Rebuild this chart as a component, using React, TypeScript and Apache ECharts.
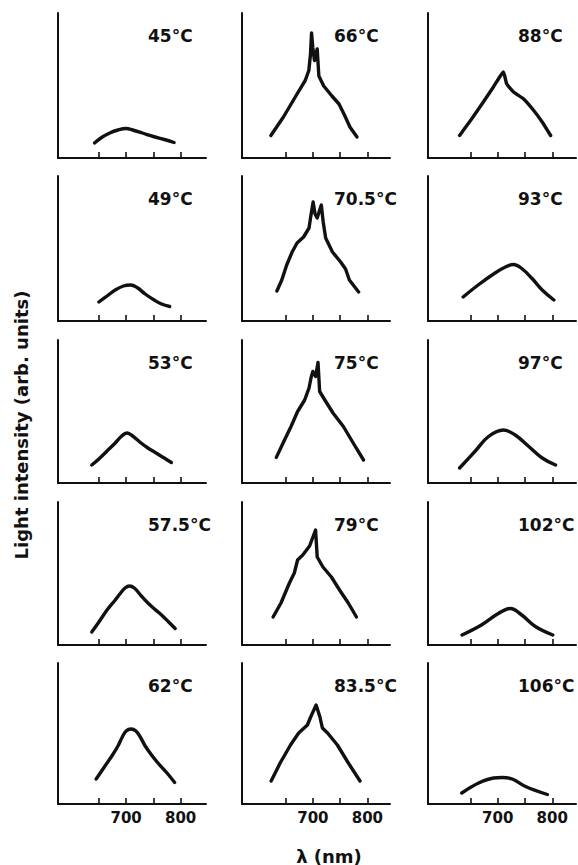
import React, { useEffect, useRef } from "react";
import * as echarts from "echarts";

// Temperature of each panel (column-major: left column top→bottom, then middle, then right)
const temperatureLabels = [
  "45°C", "49°C", "53°C", "57.5°C", "62°C",
  "66°C", "70.5°C", "75°C", "79°C", "83.5°C",
  "88°C", "93°C", "97°C", "102°C", "106°C",
];

// Spectra: [wavelength nm, light intensity (arb. units)]
const s45 = [[642, 15], [655, 20.5], [670, 25], [685, 28], [700, 29.5], [712, 28], [730, 25], [750, 21.5], [770, 18.5], [788, 15.5]];
const s49 = [[650, 19], [665, 25], [680, 31], [695, 35], [708, 36], [720, 33.5], [735, 27], [750, 21.5], [765, 17], [780, 14.5]];
const s53 = [[637, 18], [650, 24], [665, 32], [680, 40], [692, 47], [702, 50], [712, 47], [725, 41], [740, 35], [755, 30], [770, 25], [783, 20.5]];
const s57_5 = [[637, 13], [650, 23], [665, 35], [680, 45], [690, 52], [698, 57], [706, 59], [715, 57], [728, 49], [740, 42], [752, 36], [765, 30], [778, 23], [790, 16.5]];
const s62 = [[645, 25], [660, 37], [675, 49], [685, 58], [693, 67], [700, 73], [709, 75], [718, 73], [726, 67], [735, 58], [748, 48], [760, 40], [775, 31], [789, 21.5]];

const s66 = [[623, 22.5], [646, 41], [671, 64], [686, 77.5], [692.6, 87.5], [695.7, 104], [697.6, 125], [700, 110], [703, 97.5], [708, 109], [711, 82], [720, 72], [735, 62], [748, 54], [758, 43], [768, 31], [781, 21]];
const s70_5 = [[634, 30], [643, 41], [652, 56], [662, 69], [671, 78], [683, 84], [693, 93], [696, 104], [700.5, 119], [704, 107], [708, 103], [712, 110], [715.5, 116], [719, 99], [723.5, 83], [736, 69], [751, 59], [760, 52], [767, 41], [784, 29]];
const s75 = [[633, 25.6], [648, 43], [660, 56.5], [672, 71.5], [685, 83], [693, 95], [697, 106], [700, 111.5], [705, 106.5], [709.5, 120.5], [712.5, 91.5], [722, 83], [737, 70], [756, 56.5], [774, 40], [793, 23]];
const s79 = [[627, 28], [641.5, 42], [657, 62], [666, 72], [672, 85], [681.5, 90], [694, 99], [705, 115], [708, 88], [718.5, 78], [734, 68], [749, 55], [765, 42], [780, 28]];
const s83_5 = [[623.5, 23], [640, 41], [659, 59], [674, 71], [690, 79], [696, 87], [706, 99], [713, 87], [717.5, 76], [727, 71], [745, 59], [764, 42], [786.5, 23]];

const s88 = [[630, 22.5], [652, 39], [673.5, 56], [692, 71], [704, 81.5], [710.5, 86], [716.5, 74], [729, 66], [747.5, 59], [766, 47.5], [781.5, 36], [797, 22.5]];
const s93 = [[636.5, 24], [664, 36], [695, 48], [714, 54], [729, 56.5], [744, 52.5], [763, 42.5], [781.5, 31], [803, 21]];
const s97 = [[630, 15], [658, 31.5], [683, 46.5], [710.5, 53], [732, 48], [757, 36.5], [781.5, 25], [806, 18]];
const s102 = [[634.5, 10], [670, 20], [701, 31.5], [723, 36.5], [744, 30], [769, 18.5], [801, 10]];
const s106 = [[634, 11], [665, 21], [692.5, 26], [708, 26.5], [726.5, 25], [751, 17.5], [791, 9.5]];

const panelSeries = [s45, s49, s53, s57_5, s62, s66, s70_5, s75, s79, s83_5, s88, s93, s97, s102, s106];

const xTickValues = [650, 700, 750, 800];
const xLabelValues = [700, 800];

const yAxisTitle = "Light intensity (arb. units)";
const xAxisTitle = "λ (nm)";

// Layout
const ROW_TOP = [13, 176, 340, 502, 663];
const ROW_BOTTOM = [158, 321, 483, 645, 804];
const COL_LEFT = [58, 242, 428];
const COL_MIN = [575, 570, 572];
const PX_PER_NM = 0.545;
const PLOT_W = 148;
const LABEL_DX = [90, 92, 90];
const SMOOTH = [0.4, 0.4, 0.35, 0.35, 0.35, 0, 0, 0, 0, 0, 0.15, 0.4, 0.4, 0.4, 0.4];
const INK = "#111";
const FONT = "DejaVu Sans";

export default function App() {
  const ref = useRef<HTMLDivElement>(null);
  useEffect(() => {
    document.body.style.margin = "0";
    const chart = echarts.init(ref.current!, null, { renderer: "svg" });
    const grids: any[] = [];
    const xAxes: any[] = [];
    const yAxes: any[] = [];
    const series: any[] = [];
    const graphics: any[] = [];
    for (let c = 0; c < 3; c++) {
      for (let r = 0; r < 5; r++) {
        const i = c * 5 + r;
        const h = ROW_BOTTOM[r] - ROW_TOP[r];
        grids.push({ left: COL_LEFT[c], top: ROW_TOP[r], width: PLOT_W, height: h });
        xAxes.push({
          gridIndex: i,
          type: "value",
          min: COL_MIN[c],
          max: COL_MIN[c] + PLOT_W / PX_PER_NM,
          axisLine: { show: true, onZero: false, lineStyle: { color: INK, width: 2 } },
          axisTick: {
            show: true,
            inside: true,
            length: 6,
            customValues: xTickValues,
            lineStyle: { color: INK, width: 1.6 },
          },
          axisLabel:
            r === 4
              ? {
                  show: true,
                  customValues: xLabelValues,
                  color: INK,
                  fontFamily: FONT,
                  fontWeight: "bold",
                  fontSize: 15,
                  margin: 6,
                }
              : { show: false },
          splitLine: { show: false },
        });
        yAxes.push({
          gridIndex: i,
          type: "value",
          min: 0,
          max: h,
          axisLine: { show: true, onZero: false, lineStyle: { color: INK, width: 2 } },
          axisTick: { show: false },
          axisLabel: { show: false },
          splitLine: { show: false },
        });
        series.push({
          type: "line",
          xAxisIndex: i,
          yAxisIndex: i,
          data: panelSeries[i],
          symbol: "none",
          showSymbol: false,
          smooth: SMOOTH[i],
          silent: true,
          lineStyle: { color: INK, width: 3.4, cap: "round", join: "round" },
        });
        graphics.push({
          type: "text",
          x: COL_LEFT[c] + LABEL_DX[c],
          y: ROW_TOP[r] + 23,
          style: {
            text: temperatureLabels[i],
            fill: INK,
            fontFamily: FONT,
            fontWeight: "bold",
            fontSize: 17,
            align: "left",
            verticalAlign: "middle",
          },
        });
      }
    }
    graphics.push({
      type: "text",
      x: 21,
      y: 425,
      rotation: Math.PI / 2,
      style: {
        text: yAxisTitle,
        fill: INK,
        fontFamily: FONT,
        fontWeight: "bold",
        fontSize: 18,
        align: "center",
        verticalAlign: "middle",
      },
    });
    graphics.push({
      type: "text",
      x: 329,
      y: 856,
      style: {
        text: xAxisTitle,
        fill: INK,
        fontFamily: FONT,
        fontWeight: "bold",
        fontSize: 18,
        align: "center",
        verticalAlign: "middle",
      },
    });
    chart.setOption({
      animation: false,
      backgroundColor: "#ffffff",
      grid: grids,
      xAxis: xAxes,
      yAxis: yAxes,
      series,
      graphic: graphics,
    });
    return () => chart.dispose();
  }, []);
  return <div ref={ref} style={{ width: 578, height: 865 }} />;
}
